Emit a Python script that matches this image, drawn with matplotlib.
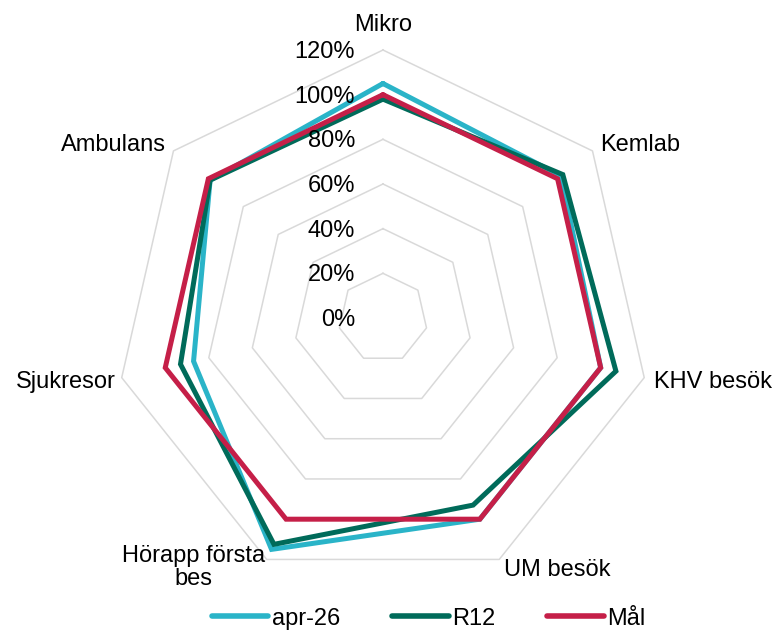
import numpy as np
import matplotlib
matplotlib.use("Agg")
import matplotlib.pyplot as plt

plt.rcParams['font.family'] = ['Liberation Sans', 'DejaVu Sans']

categories = ["Mikro", "Kemlab", "KHV besök", "UM besök", "Hörapp första\nbes", "Sjukresor", "Ambulans"]
apr26 = [105, 102, 100, 100, 115, 87, 99]
r12 = [98, 103, 107, 93, 112.5, 93, 99]
mal = [100, 100, 100, 100, 100, 100, 100]
tick_values = [0, 20, 40, 60, 80, 100, 120]
tick_labels = ["0%", "20%", "40%", "60%", "80%", "100%", "120%"]

series = [("apr-26", apr26, "#2AB4C8"), ("R12", r12, "#006B5A"), ("Mål", mal, "#C51F48")]

fig = plt.figure(figsize=(7.78, 6.32), dpi=100)
ax = fig.add_axes([0.1478, 0.0728, 0.6889, 0.8481], polar=True)
ax.set_theta_offset(np.pi / 2)
ax.set_theta_direction(-1)
ax.set_ylim(0, 120)
ax.grid(False)
ax.spines['polar'].set_visible(False)
ax.set_xticks([])
ax.set_yticks([])
ax.patch.set_alpha(0)

n = len(categories)
theta = np.arange(n) * 2 * np.pi / n
theta_c = np.append(theta, theta[0])

for r in tick_values[1:]:
    ax.plot(theta_c, [r] * (n + 1), color="#D9D9D9", lw=1.1, zorder=1, clip_on=False)

for name, vals, col in series:
    v = list(vals) + [vals[0]]
    ax.plot(theta_c, v, color=col, lw=3.6, label=name, zorder=3,
            solid_joinstyle='miter', solid_capstyle='round', clip_on=False)

fs = 17
for r, lab in zip(tick_values, tick_labels):
    ax.annotate(lab, xy=(0, r), xytext=(-28, -2), textcoords='offset pixels',
                ha='right', va='center', fontsize=fs, color='#000000')

label_style = [
    ('center', 'center', (0, 25)),
    ('left', 'center', (8, 6)),
    ('left', 'center', (10, -4)),
    ('left', 'center', (5, -11)),
    ('right', 'center', (-2, -8)),
    ('right', 'center', (-6, -4)),
    ('right', 'center', (-8, 6)),
]
for k, (lab, (ha, va, off)) in enumerate(zip(categories, label_style)):
    ax.annotate(lab, xy=(theta[k], 120), xytext=off, textcoords='offset pixels',
                ha=ha, va=va, fontsize=fs, multialignment='center', color='#000000',
                linespacing=1.05)

leg = fig.legend(loc='center', bbox_to_anchor=(0.551, 0.021), ncol=3, frameon=False,
                 fontsize=fs, handlelength=2.4, handletextpad=0.15, columnspacing=2.2)
for line in leg.get_lines():
    line.set_linewidth(4)
    line.set_solid_capstyle('round')

fig.savefig("out.png", dpi=100)
